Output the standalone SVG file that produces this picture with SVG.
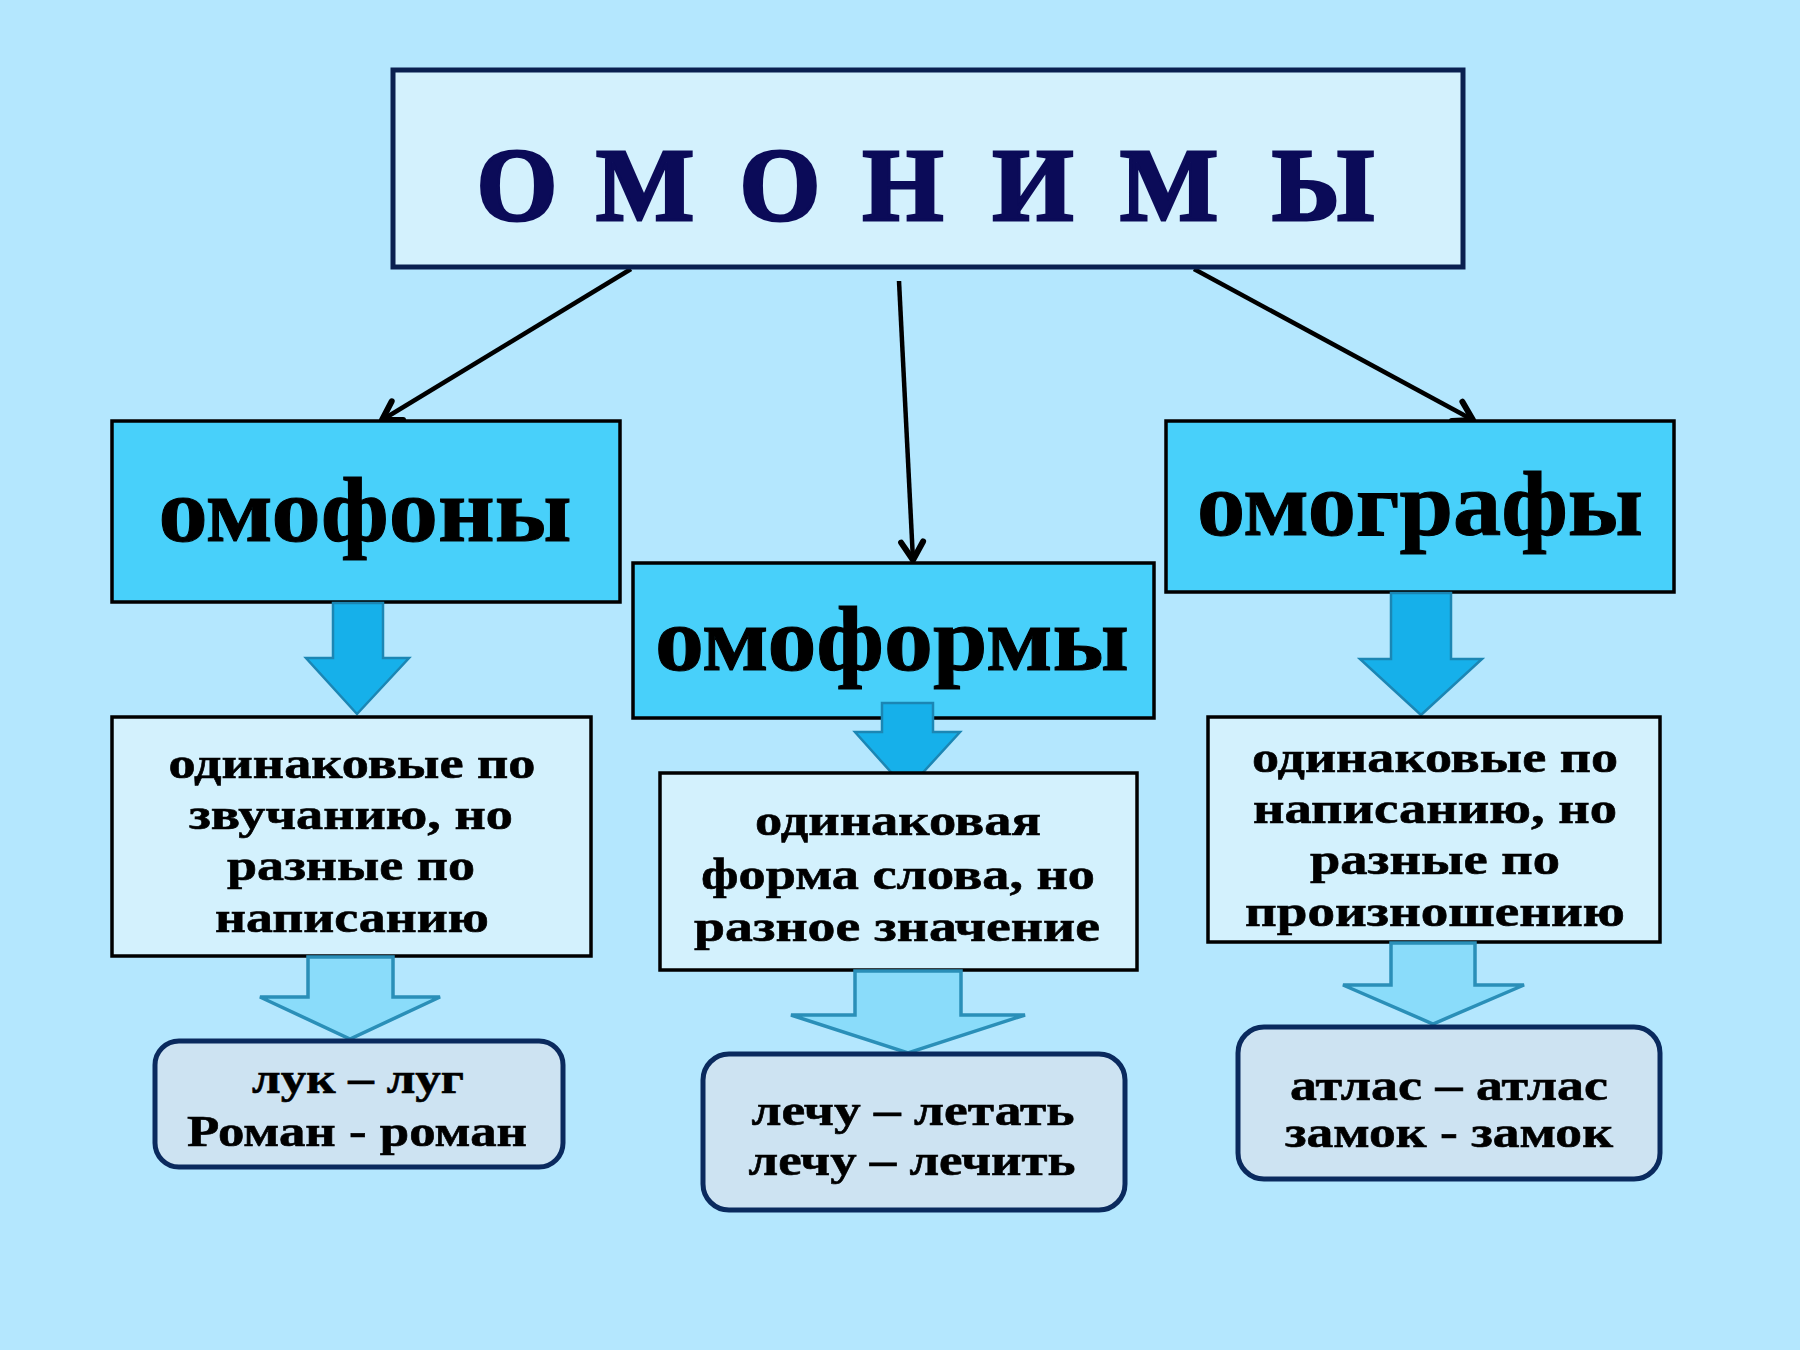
<svg xmlns="http://www.w3.org/2000/svg" width="1800" height="1350" viewBox="0 0 1800 1350">
<defs>
<style>
.t{font-family:"Liberation Serif","Times New Roman",serif;font-weight:bold;fill:#000;text-anchor:middle}
.title{font-family:"Liberation Serif","Times New Roman",serif;font-weight:bold;fill:#0b0b58;stroke:#0b0b58;stroke-width:3;text-anchor:middle;font-size:104px}
.h{font-size:90px;stroke:#000;stroke-width:1}
.d{font-size:45px;stroke:#000;stroke-width:0.6}
.e{font-size:45px;stroke:#000;stroke-width:0.6}
.lvl1{fill:#48d0fa;stroke:#000;stroke-width:3.5}
.desc{fill:#d3f1fd;stroke:#000;stroke-width:3.5}
.ex{fill:#cde3f2;stroke:#0a2a5e;stroke-width:5}
.ba{fill:#16b0ea;stroke:#1b86b4;stroke-width:2.5}
.la{fill:#8adcfa;stroke:#2a8fb8;stroke-width:3.5}
.con{stroke:#000;stroke-width:4.5;fill:none}
</style>
<marker id="ah" markerUnits="userSpaceOnUse" markerWidth="50" markerHeight="50" viewBox="-25 -25 50 50" refX="0" refY="0" orient="auto">
<path d="M -18 -11 L 0 0 L -18 11" fill="none" stroke="#000" stroke-width="6" stroke-linecap="round" stroke-linejoin="round"/>
</marker>
</defs>
<rect x="0" y="0" width="1800" height="1350" fill="#b4e7fe"/>

<g id="connectors">
<line class="con" x1="631" y1="269" x2="382" y2="420" marker-end="url(#ah)"/>
<line class="con" x1="899" y1="281" x2="913" y2="560" marker-end="url(#ah)"/>
<line class="con" x1="1194" y1="269" x2="1473" y2="420" marker-end="url(#ah)"/>
</g>

<g id="node-omonimy">
<rect x="393" y="70" width="1070" height="197" fill="#d3f1fd" stroke="#0a2050" stroke-width="5"/>
<text class="title" x="517" y="220">О</text>
<text class="title" x="645" y="220">М</text>
<text class="title" x="780" y="220">О</text>
<text class="title" x="903" y="220">Н</text>
<text class="title" x="1033" y="220">И</text>
<text class="title" x="1169" y="220">М</text>
<text class="title" x="1323" y="220">Ы</text>
</g>

<g id="node-omofony">
<rect class="lvl1" x="112" y="421" width="508" height="181"/>
<text class="t h" x="365" y="541" textLength="413" lengthAdjust="spacingAndGlyphs">омофоны</text>
</g>

<g id="node-omoformy">
<rect class="lvl1" x="633" y="563" width="521" height="155"/>
<text class="t h" x="892" y="670" textLength="474" lengthAdjust="spacingAndGlyphs">омоформы</text>
</g>

<g id="node-omografy">
<rect class="lvl1" x="1166" y="421" width="508" height="171"/>
<text class="t h" x="1420" y="535" textLength="446" lengthAdjust="spacingAndGlyphs">омографы</text>
</g>

<g id="arrow-1a">
<path class="ba" d="M 333 603 L 383 603 L 383 658 L 409 658 L 357 714 L 306 658 L 333 658 Z"/>
</g>
<g id="arrow-2a">
<path class="ba" d="M 882 703 L 933 703 L 933 732 L 960 732 L 907 790 L 855 732 L 882 732 Z"/>
</g>
<g id="arrow-3a">
<path class="ba" d="M 1391 593 L 1451 593 L 1451 659 L 1482 659 L 1421 715 L 1360 659 L 1391 659 Z"/>
</g>

<g id="node-desc-omofony">
<rect class="desc" x="112" y="717" width="479" height="239"/>
<text class="t d" x="352" y="778" textLength="367" lengthAdjust="spacingAndGlyphs">одинаковые по</text>
<text class="t d" x="351" y="829" textLength="324" lengthAdjust="spacingAndGlyphs">звучанию, но</text>
<text class="t d" x="351" y="880" textLength="248" lengthAdjust="spacingAndGlyphs">разные по</text>
<text class="t d" x="352" y="932" textLength="274" lengthAdjust="spacingAndGlyphs">написанию</text>
</g>

<g id="node-desc-omoformy">
<rect class="desc" x="660" y="773" width="477" height="197"/>
<text class="t d" x="898" y="835" textLength="286" lengthAdjust="spacingAndGlyphs">одинаковая</text>
<text class="t d" x="898" y="889" textLength="394" lengthAdjust="spacingAndGlyphs">форма слова, но</text>
<text class="t d" x="897" y="941" textLength="406" lengthAdjust="spacingAndGlyphs">разное значение</text>
</g>

<g id="node-desc-omografy">
<rect class="desc" x="1208" y="717" width="452" height="225"/>
<text class="t d" x="1435" y="772" textLength="366" lengthAdjust="spacingAndGlyphs">одинаковые по</text>
<text class="t d" x="1435" y="823" textLength="364" lengthAdjust="spacingAndGlyphs">написанию, но</text>
<text class="t d" x="1435" y="874" textLength="250" lengthAdjust="spacingAndGlyphs">разные по</text>
<text class="t d" x="1435" y="926" textLength="380" lengthAdjust="spacingAndGlyphs">произношению</text>
</g>

<g id="arrow-1b">
<path class="la" d="M 308 957 L 393 957 L 393 997 L 440 997 L 350 1039 L 260 997 L 308 997 Z"/>
</g>
<g id="arrow-2b">
<path class="la" d="M 855 971 L 961 971 L 961 1015 L 1025 1015 L 908 1053 L 791 1015 L 855 1015 Z"/>
</g>
<g id="arrow-3b">
<path class="la" d="M 1391 943 L 1475 943 L 1475 985 L 1524 985 L 1433 1024 L 1343 985 L 1391 985 Z"/>
</g>

<g id="node-ex-omofony">
<rect class="ex" x="155" y="1041" width="408" height="126" rx="24"/>
<text class="t e" x="358" y="1093" textLength="212" lengthAdjust="spacingAndGlyphs">лук – луг</text>
<text class="t e" x="357" y="1146" textLength="340" lengthAdjust="spacingAndGlyphs">Роман - роман</text>
</g>

<g id="node-ex-omoformy">
<rect class="ex" x="703" y="1054" width="422" height="156" rx="26"/>
<text class="t e" x="913" y="1125" textLength="323" lengthAdjust="spacingAndGlyphs">лечу – летать</text>
<text class="t e" x="912" y="1175" textLength="327" lengthAdjust="spacingAndGlyphs">лечу – лечить</text>
</g>

<g id="node-ex-omografy">
<rect class="ex" x="1238" y="1027" width="422" height="152" rx="26"/>
<text class="t e" x="1449" y="1100" textLength="318" lengthAdjust="spacingAndGlyphs">атлас – атлас</text>
<text class="t e" x="1449" y="1147" textLength="328" lengthAdjust="spacingAndGlyphs">замок - замок</text>
</g>
</svg>
